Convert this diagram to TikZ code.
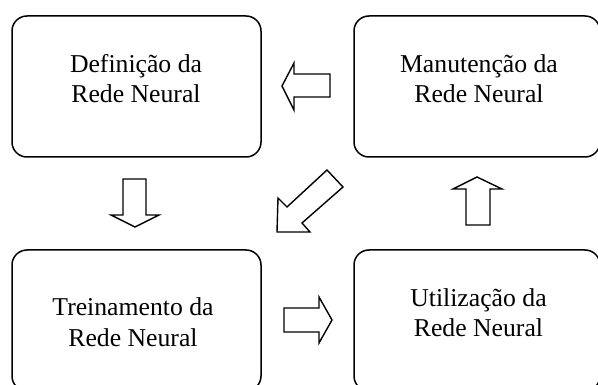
\documentclass[tikz,border=0pt]{standalone}
\usepackage{fontspec}
\setmainfont{Liberation Serif}
\begin{document}
\begin{tikzpicture}[x=1pt,y=-1pt,
  box/.style={draw=black, line width=1.5pt, rounded corners=15pt, inner sep=0pt},
  txt/.style={anchor=base, inner sep=0pt, font=\fontsize{25.7}{30}\selectfont},
  blockarrow/.style={draw=black, fill=white, line width=1.4pt, line join=miter}]
\useasboundingbox (0,0) rectangle (598,385);
\fill[white] (0,0) rectangle (598,385);
\clip (0,0) rectangle (598,385);
% boxes
\node[box, minimum width=249pt, minimum height=141pt] (def) at (136.5,86.5) {};
\node[box, minimum width=246pt, minimum height=141pt] (man) at (477,86.5) {};
\node[box, minimum width=249pt, minimum height=141pt] (tre) at (136.5,320.5) {};
\node[box, minimum width=246pt, minimum height=141pt] (uti) at (477,320.5) {};
% texts
\node[txt] (def1) at (136,73) {Definição da};
\node[txt] (def2) at (136,103) {Rede Neural};
\node[txt] (man1) at (479,73) {Manutenção da};
\node[txt] (man2) at (479,103) {Rede Neural};
\node[txt] (tre1) at (133,316) {Treinamento da};
\node[txt] (tre2) at (133,346) {Rede Neural};
\node[txt] (uti1) at (478.5,307) {Utilização da};
\node[txt] (uti2) at (478.5,337) {Rede Neural};
% block arrows
\draw[blockarrow] (330,74) -- (294,74) -- (294,63) -- (282,86) -- (294,110) -- (294,97) -- (330,97) -- cycle;
\draw[blockarrow] (123,179) -- (146,179) -- (146,215) -- (159,215) -- (135,227) -- (111,215) -- (123,215) -- cycle;
\draw[blockarrow] (466,225) -- (466,189) -- (453,189) -- (477,177) -- (502,189) -- (490,189) -- (490,225) -- cycle;
\draw[blockarrow] (284,308) -- (319,308) -- (319,297) -- (332,320) -- (319,343) -- (319,332) -- (284,332) -- cycle;
\draw[blockarrow] (327,170) -- (343,187) -- (302,223) -- (310,232) -- (277,232) -- (278,198) -- (287,207) -- cycle;
\end{tikzpicture}
\end{document}
